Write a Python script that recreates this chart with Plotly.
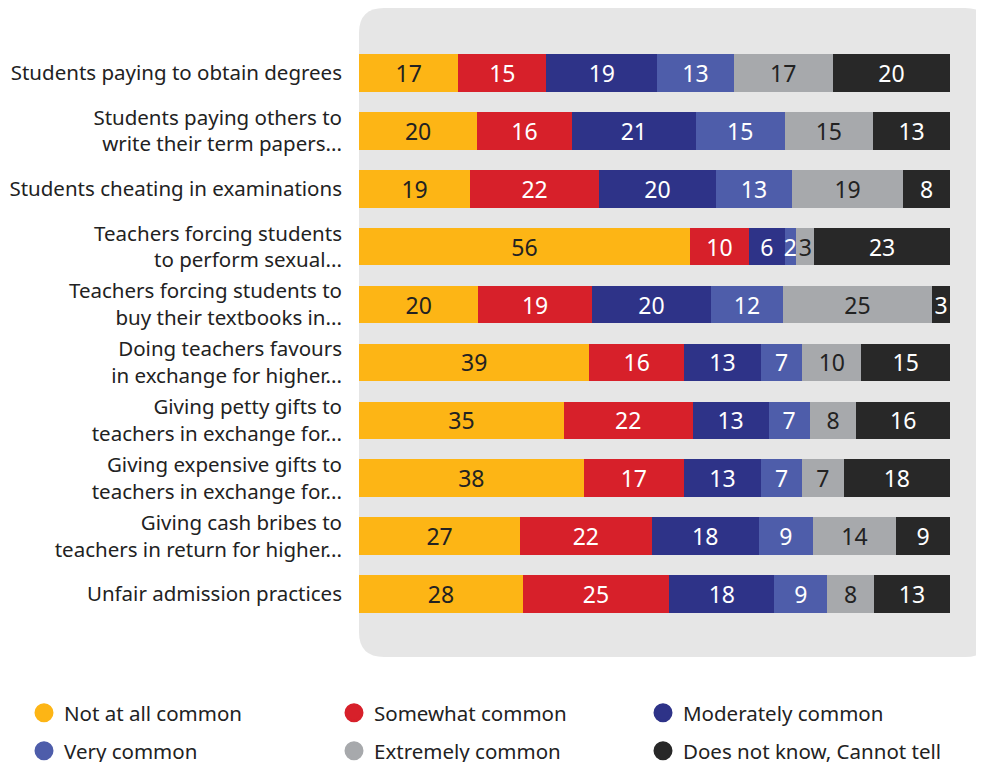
import plotly.graph_objects as go

categories = [
    "Students paying to obtain degrees",
    "Students paying others to<br>write their term papers...",
    "Students cheating in examinations",
    "Teachers forcing students<br>to perform sexual...",
    "Teachers forcing students to<br>buy their textbooks in...",
    "Doing teachers favours<br>in exchange for higher...",
    "Giving petty gifts to<br>teachers in exchange for...",
    "Giving expensive gifts to<br>teachers in exchange for...",
    "Giving cash bribes to<br>teachers in return for higher...",
    "Unfair admission practices",
]

not_at_all = [17, 20, 19, 56, 20, 39, 35, 38, 27, 28]
somewhat = [15, 16, 22, 10, 19, 16, 22, 17, 22, 25]
moderately = [19, 21, 20, 6, 20, 13, 13, 13, 18, 18]
very = [13, 15, 13, 2, 12, 7, 7, 7, 9, 9]
extremely = [17, 15, 19, 3, 25, 10, 8, 7, 14, 8]
dont_know = [20, 13, 8, 23, 3, 15, 16, 18, 9, 13]

series = [
    ("Not at all common", not_at_all, "#FDB515", "#222222"),
    ("Somewhat common", somewhat, "#D7202A", "#FFFFFF"),
    ("Moderately common", moderately, "#2E3388", "#FFFFFF"),
    ("Very common", very, "#4E5DAA", "#FFFFFF"),
    ("Extremely common", extremely, "#A7A9AC", "#222222"),
    ("Does not know, Cannot tell", dont_know, "#282828", "#FFFFFF"),
]

FONT = "Noto Sans"
fig = go.Figure()

for name, values, color, text_color in series:
    fig.add_trace(go.Bar(
        y=categories,
        x=values,
        orientation="h",
        name=name,
        marker=dict(color=color, line=dict(width=0)),
        text=[str(v) for v in values],
        textposition="inside",
        insidetextanchor="middle",
        textangle=0,
        textfont=dict(family=FONT, size=23, color=text_color),
        showlegend=False,
        hoverinfo="skip",
    ))

# page is drawn with an 8px body margin, so work in page pixels and convert
PLOT_L, PLOT_T, PLOT_W, PLOT_H = 359, 44, 591.0, 579.0


def paper_x(page_x):
    return (page_x - PLOT_L) / PLOT_W


def paper_y(page_y):
    return (PLOT_T + PLOT_H - page_y) / PLOT_H


# one legend per entry so the 3x2 grid sits where the original has it
legend_cols = [24, 334, 643]
legend_rows = [713, 751]
legend_layout = {}
for i, (name, values, color, text_color) in enumerate(series):
    key = "legend" if i == 0 else f"legend{i + 1}"
    fig.add_trace(go.Scatter(
        x=[None], y=[None],
        mode="markers",
        name=name,
        marker=dict(symbol="circle", size=16, color=color, line=dict(width=3, color=color)),
        legend=key,
    ))
    legend_layout[key] = dict(
        orientation="h",
        xanchor="left",
        yanchor="middle",
        x=paper_x(legend_cols[i % 3]),
        y=paper_y(legend_rows[i // 3]),
        font=dict(family=FONT, size=20.5, color="#222222"),
        bgcolor="rgba(0,0,0,0)",
        itemclick=False,
        itemdoubleclick=False,
    )

# rounded grey panel behind the bars
x0, y0 = paper_x(359), paper_y(657)
x1, y1 = paper_x(990), paper_y(8)
rx, ry = 25 / PLOT_W, 25 / PLOT_H
path = (
    f"M {x0 + rx} {y1} L {x1 - rx} {y1} Q {x1} {y1} {x1} {y1 - ry} "
    f"L {x1} {y0 + ry} Q {x1} {y0} {x1 - rx} {y0} "
    f"L {x0 + rx} {y0} Q {x0} {y0} {x0} {y0 + ry} "
    f"L {x0} {y1 - ry} Q {x0} {y1} {x0 + rx} {y1} Z"
)
fig.add_shape(type="path", path=path, xref="paper", yref="paper",
              fillcolor="#E6E6E6", line=dict(width=0), layer="below")

fig.update_layout(
    width=976,
    height=754,
    margin=dict(l=PLOT_L - 8, r=976 - (PLOT_L - 8) - int(PLOT_W),
                t=PLOT_T - 8, b=754 - (PLOT_T - 8) - int(PLOT_H), autoexpand=False),
    barmode="stack",
    barnorm="percent",
    bargap=0.35,
    paper_bgcolor="white",
    plot_bgcolor="rgba(0,0,0,0)",
    font=dict(family=FONT, color="#222222"),
    uniformtext=dict(minsize=23, mode="show"),
    showlegend=True,
    **legend_layout,
)
fig.update_xaxes(range=[0, 100], visible=False, fixedrange=True)
fig.update_yaxes(
    autorange="reversed",
    showgrid=False,
    zeroline=False,
    showline=False,
    ticks="",
    ticklabelstandoff=16,
    tickfont=dict(family=FONT, size=20.5, color="#222222"),
    fixedrange=True,
)

fig.write_html("out.html")
